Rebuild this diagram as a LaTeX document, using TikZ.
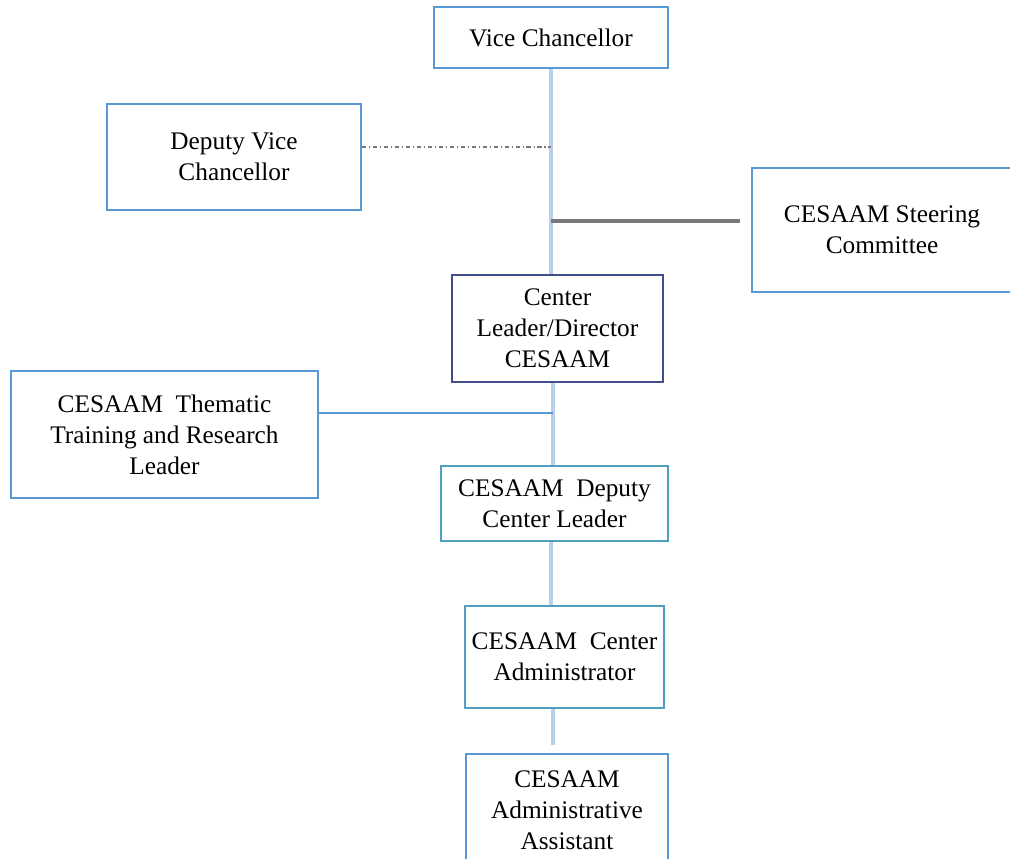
\documentclass[tikz,border=0pt]{standalone}
\usepackage{fontspec}
\setmainfont{Liberation Serif}
\definecolor{boxblue}{RGB}{88,152,214}
\definecolor{boxnavy}{RGB}{66,78,140}
\definecolor{boxteal}{RGB}{78,160,190}
\definecolor{lineblue}{RGB}{184,208,235}
\definecolor{linegrey}{RGB}{120,120,120}

\begin{document}
\begin{tikzpicture}
[
	post/.style={draw=boxblue,line width=1.4pt,fill=white,align=center,inner sep=2pt,
		font=\fontsize{18}{22}\selectfont},
	navypost/.style={post,draw=boxnavy},
	tealpost/.style={post,draw=boxteal},
	link/.style={lineblue,line width=2.2pt},
	steerlink/.style={linegrey,line width=2.6pt},
	themelink/.style={boxblue,line width=1.6pt},
	advise/.style={linegrey,line width=0.8pt,dash dot}
]

	\useasboundingbox (0,0) rectangle (25.25,-21.475);

	% posts
	\node[post,minimum width=5.85cm,minimum height=1.525cm] at (13.775,-0.9375) (vc) {Vice Chancellor};
	\node[post,minimum width=6.35cm,minimum height=2.65cm] at (5.85,-3.925) (dvc) {Deputy Vice\\Chancellor};
	\node[post,minimum width=6.5cm,minimum height=3.1cm] at (22.05,-5.75) (steer) {CESAAM Steering\\Committee};
	\node[navypost,minimum width=5.275cm,minimum height=2.675cm] at (13.9375,-8.2125) (leader) {Center\\Leader/Director\\CESAAM};
	\node[post,minimum width=7.675cm,minimum height=3.175cm] at (4.1125,-10.8625) (theme) {CESAAM\ \ Thematic\\Training and Research\\Leader};
	\node[tealpost,minimum width=5.675cm,minimum height=1.875cm] at (13.8625,-12.5875) (deputy) {CESAAM\ \ Deputy\\Center Leader};
	\node[tealpost,minimum width=4.975cm,minimum height=2.55cm] at (14.1125,-16.425) (admin) {CESAAM\ \ Center\\Administrator};
	\node[post,minimum width=5.05cm,minimum height=2.8cm] at (14.175,-20.25) (assist) {CESAAM\\Administrative\\Assistant};

	% junctions
	\coordinate (dvcj) at (13.775,-3.675);
	\coordinate (steerj) at (13.775,-5.525);
	\coordinate (themej) at (13.825,-10.325);

	% lines
	\draw[link] (vc.south) -- (vc.south |- leader.north);
	\draw[advise] (dvcj -| dvc.east) -- (dvcj);
	\draw[steerlink,shorten >=0.275cm] (steerj) -- (steerj -| steer.west);
	\draw[link] (themej |- deputy.north) -- (themej |- leader.south);
	\draw[themelink] (theme.east |- themej) -- (themej);
	\draw[link] (vc.south |- deputy.south) -- (vc.south |- admin.north);
	\draw[link,shorten >=0.2cm] (themej |- admin.south) -- (themej |- assist.north);

\end{tikzpicture}
\end{document}
